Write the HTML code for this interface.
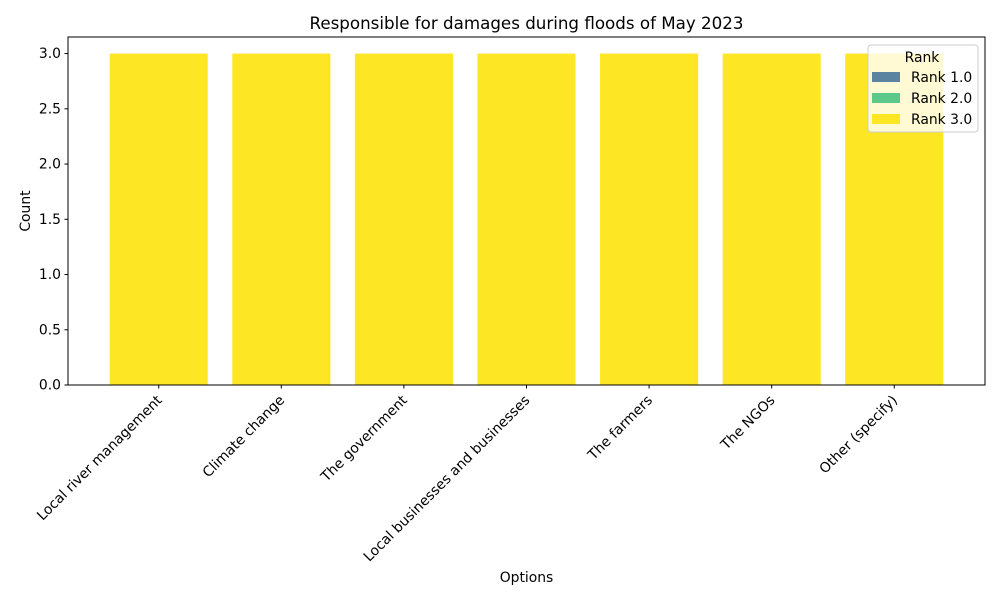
<!DOCTYPE html>
<html><head><meta charset="utf-8"><style>body{margin:0;background:#fff}svg{display:block;font-family:"DejaVu Sans","Liberation Sans",sans-serif}</style></head>
<body>
<svg id="chart" width="1000" height="600" xmlns="http://www.w3.org/2000/svg"></svg>
<script>
const categories = ["Local river management","Climate change","The government","Local businesses and businesses","The farmers","The NGOs","Other (specify)"];
const rank1 = [0,0,0,0,0,0,0];
const rank2 = [0,0,0,0,0,0,0];
const rank3 = [3,3,3,3,3,3,3];
const yTicks = [0,0.5,1,1.5,2,2.5,3];
const seriesNames = ["Rank 1.0","Rank 2.0","Rank 3.0"];
const colors = ["#5b84a0","#5cc88a","#fde725"];

const svg = document.getElementById('chart');
const NS = 'http://www.w3.org/2000/svg';
const L=68,R=985,T=37,B=385, xmin=-0.74, xmax=6.74, ymax=3.15;
const xs = v => L + (v - xmin) / (xmax - xmin) * (R - L);
const ys = v => B - v / ymax * (B - T);
function mk(tag, attrs, txt){const e=document.createElementNS(NS,tag);for(const k in attrs)e.setAttribute(k,attrs[k]);if(txt!==undefined)e.textContent=txt;svg.appendChild(e);return e;}

const series=[rank1,rank2,rank3];
const bw = 0.8*(xs(1)-xs(0));
categories.forEach((c,i)=>{
  let base=0;
  series.forEach((s,si)=>{
    if(s[i]>0){
      const r=mk('rect',{x:xs(i)-bw/2,y:ys(base+s[i]),width:bw,height:ys(base)-ys(base+s[i]),fill:colors[si]});
      
      
    }
    base+=s[i];
  });
});
const fr=mk('rect',{x:L,y:T,width:R-L,height:B-T,fill:'none',stroke:'#000','stroke-width':1});


yTicks.forEach(t=>{
  const y=ys(t);
  mk('line',{x1:L-3.5,x2:L,y1:y,y2:y,stroke:'#000'});
  const tx=mk('text',{x:L-7,y:y+4.5,'text-anchor':'end','font-size':'13.9'},t.toFixed(1));
  
  
});
categories.forEach((c,i)=>{
  const x=xs(i);
  mk('line',{x1:x,x2:x,y1:B,y2:B+3.5,stroke:'#000'});
  const tx=mk('text',{x:x+4,y:B+16,'text-anchor':'end','font-size':'13.9',transform:`rotate(-45 ${x+4} ${B+16})`},c);
  
  
});
let t=mk('text',{x:(L+R)/2,y:T-8,'text-anchor':'middle','font-size':'16.7'},'Responsible for damages during floods of May 2023');


t=mk('text',{x:(L+R)/2,y:582,'text-anchor':'middle','font-size':'13.9'},'Options');


t=mk('text',{x:30,y:(T+B)/2,'text-anchor':'middle','font-size':'13.9',transform:`rotate(-90 30 ${(T+B)/2})`},'Count');


const lg=mk('rect',{x:868,y:45,width:110,height:87,rx:3,fill:'rgba(255,255,255,0.8)',stroke:'#ccc'});


t=mk('text',{x:922,y:62,'text-anchor':'middle','font-size':'13.9'},'Rank');


seriesNames.forEach((n,k)=>{
  const y=72+k*21;
  mk('rect',{x:872,y:y,width:28,height:10,fill:colors[k]});
  const e=mk('text',{x:911,y:y+10,'font-size':'13.9'},n);
  
  
});
</script>
</body></html>
